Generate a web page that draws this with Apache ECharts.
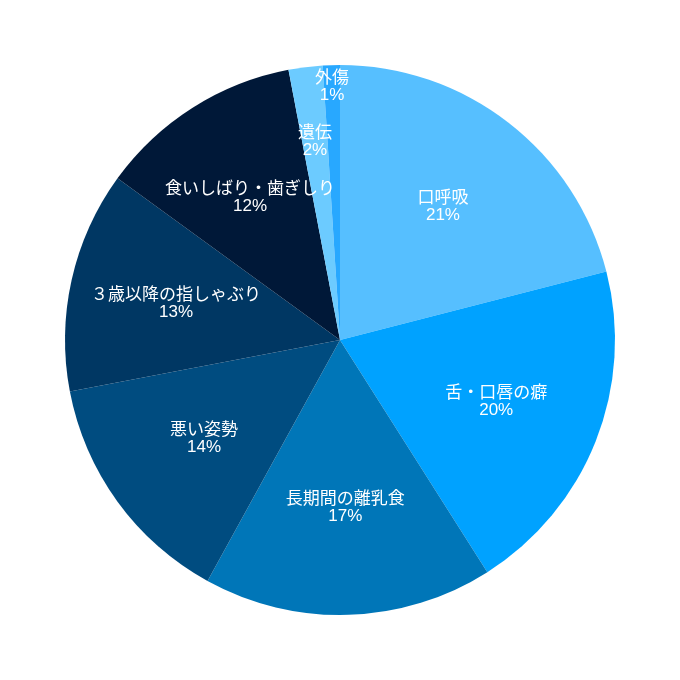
<!DOCTYPE html>
<html>
<head>
<meta charset="utf-8">
<script src="https://cdn.jsdelivr.net/npm/echarts@6/dist/echarts.min.js"></script>
<style>
html,body{margin:0;padding:0;background:#fff;}
#c{width:680px;height:680px;}
</style>
</head>
<body>
<div id="c"></div>
<script>
const categories = ['口呼吸', '舌・口唇の癖', '長期間の離乳食', '悪い姿勢', '３歳以降の指しゃぶり', '食いしばり・歯ぎしり', '遺伝', '外傷'];
const values = [21, 20, 17, 14, 13, 12, 2, 1];
const colors = ['#56bfff', '#00a2ff', '#0076b8', '#004c80', '#003763', '#001838', '#6ccbff', '#28a8ff'];

// label placement (pixel radius of label centre) per category
const labelRadius = [165, 165, 165, 165, 165, 165, 197, 250];
const R = 275;

const chart = echarts.init(document.getElementById('c'), null, {renderer: 'canvas'});

const baseData = categories.map((n, i) => ({name: n, value: values[i], itemStyle: {color: colors[i]}}));
const series = [{
  type: 'pie',
  center: [340, 340],
  radius: [0, R],
  startAngle: 90,
  clockwise: true,
  silent: true,
  label: {show: false},
  labelLine: {show: false},
  itemStyle: {borderWidth: 0},
  emphasis: {disabled: true},
  animation: false,
  data: baseData
}];

const groups = [...new Set(labelRadius)];
groups.forEach(lr => {
  const r0 = 2 * lr - R;
  series.push({
    type: 'pie',
    center: [340, 340],
    radius: [r0, R],
    startAngle: 90,
    clockwise: true,
    silent: true,
    avoidLabelOverlap: false,
    emphasis: {disabled: true},
    animation: false,
    itemStyle: {color: 'rgba(0,0,0,0)', borderWidth: 0},
    labelLine: {show: false},
    label: {
      show: true,
      position: 'inside',
      formatter: p => p.name + '\n' + p.value + '%',
      color: '#ffffff',
      fontSize: 17,
      lineHeight: 17,
      fontFamily: "'Liberation Sans', 'Noto Sans CJK JP', sans-serif",
      align: 'center'
    },
    data: categories.map((n, i) => ({
      name: n,
      value: values[i],
      label: {show: labelRadius[i] === lr}
    }))
  });
});

chart.setOption({
  backgroundColor: '#ffffff',
  animation: false,
  series: series
});
</script>
</body>
</html>
